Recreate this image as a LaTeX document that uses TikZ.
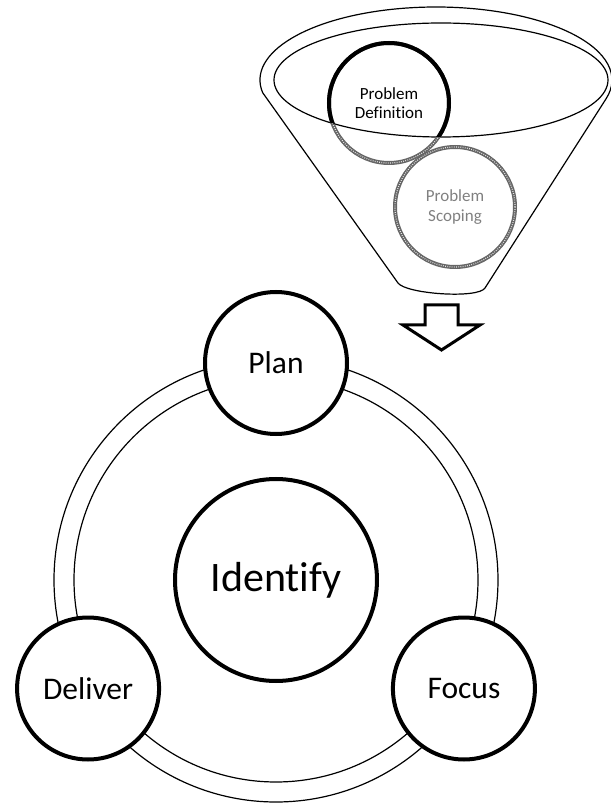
\documentclass[tikz,border=0pt]{standalone}
\usepackage{fontspec}
\setmainfont{Carlito}[Ligatures=NoCommon]
\begin{document}
\begin{tikzpicture}[x=1pt,y=1pt,
  etape/.style={circle,draw,fill=white,line width=4pt,minimum size=142pt,inner sep=0pt,font=\fontsize{31.5}{36}\selectfont},
  cadre/.style={circle,minimum size=120pt,inner sep=0pt,align=center,font=\fontsize{17}{19.5}\selectfont},
  grain/.style={draw=black!60,line width=4pt,postaction={draw=white!80!gray,line width=1.2pt,dash pattern=on 0.8pt off 1.4pt}}]
  \useasboundingbox (-276,-224) rectangle (335,580);

  % Entonnoir
  \draw[line width=1.2pt] (122,297) -- ([shift={(190:176 and 73)}]160,500)
    arc[start angle=190,end angle=-15,x radius=176,y radius=73]
    -- (209,292) .. controls (202,281) and (130,286) .. cycle;
  \draw[line width=1.2pt] (165,500) ellipse [x radius=167,y radius=57];

  % Definition et cadrage
  \node[cadre,grain] (def) at (113,477) {Problem\\Definition};
  \begin{scope}
    \clip (165,500) ellipse [x radius=167,y radius=57];
    \draw[line width=4pt] (def.center) circle[radius=60];
  \end{scope}
  \node[cadre,grain,text=gray] (scope) at (179,373) {Problem\\Scoping};

  % Fleche
  \draw[line width=3pt,miter limit=10] (149,275) -- (182,275) -- (182,255) -- (204,255)
    -- (165.5,230) -- (127,255) -- (149,255) -- cycle;

  % Cycle
  \draw[line width=1.2pt] (0,0) circle[radius=202] (0,0) circle[radius=222];
  \node[etape,minimum size=202pt,font=\fontsize{42}{48}\selectfont] (identify) at (0,0) {Identify};
  \node[etape] (plan) at (90:217) {Plan};
  \node[etape] (deliver) at (210:217) {Deliver};
  \node[etape] (focus) at (330:217) {Focus};
\end{tikzpicture}
\end{document}
